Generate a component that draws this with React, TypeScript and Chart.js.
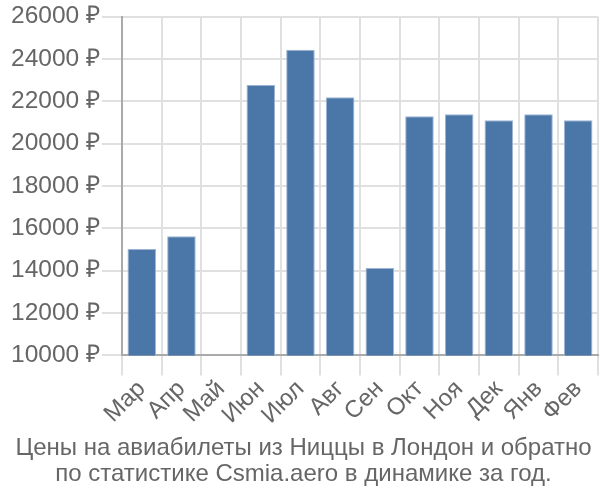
import React, { useEffect, useRef } from "react";
import { Chart, registerables } from "chart.js";

Chart.register(...registerables);

const categories = ["Мар", "Апр", "Май", "Июн", "Июл", "Авг", "Сен", "Окт", "Ноя", "Дек", "Янв", "Фев"];
const prices: (number | null)[] = [15020, 15630, null, 22770, 24440, 22200, 14130, 21300, 21390, 21110, 21390, 21110];
const titleLines = ["Цены на авиабилеты из Ниццы в Лондон и обратно", "по статистике Csmia.aero в динамике за год."];

export default function App() {
  const ref = useRef<HTMLCanvasElement>(null);
  useEffect(() => {
    if (!ref.current) return;
    const font = "'Liberation Sans', Arial, sans-serif";
    const chart = new Chart(ref.current, {
      type: "bar",
      data: {
        labels: categories,
        datasets: [
          {
            data: prices,
            backgroundColor: "#4a76a8",
            borderColor: "#9db5d3",
            borderWidth: 1,
            barPercentage: 0.72,
            categoryPercentage: 1,
          },
        ],
      },
      options: {
        responsive: false,
        animation: false,
        layout: { padding: { left: 9, right: 2, top: 0, bottom: 8 } },
        plugins: {
          legend: { display: false },
          tooltip: { enabled: false },
          title: {
            display: true,
            position: "bottom",
            text: titleLines,
            color: "#666",
            font: { family: font, size: 24, weight: "normal", lineHeight: 1.1 },
            padding: { top: 6, bottom: 4 },
          },
        },
        scales: {
          x: {
            grid: { color: "#e0e0e0", lineWidth: 2, offset: true, tickLength: 20 },
            border: { color: "#aaa", width: 2 },
            ticks: {
              color: "#666",
              font: { family: font, size: 24 },
              maxRotation: 45,
              minRotation: 45,
              padding: -0.5,
              autoSkip: false,
            },
          },
          y: {
            min: 10000,
            max: 26000,
            grid: { color: "#e0e0e0", lineWidth: 2, tickLength: 20 },
            border: { color: "#aaa", width: 2 },
            ticks: {
              stepSize: 2000,
              color: "#666",
              font: { family: font, size: 24.5 },
              padding: 2,
              callback: (v: any) => v + " ₽",
            },
          },
        },
      },
    });
    return () => chart.destroy();
  }, []);
  return (
    <div style={{ position: "fixed", left: 0, top: 0, width: 600, height: 500, background: "#fff" }}>
      <canvas ref={ref} width={600} height={500} />
    </div>
  );
}
